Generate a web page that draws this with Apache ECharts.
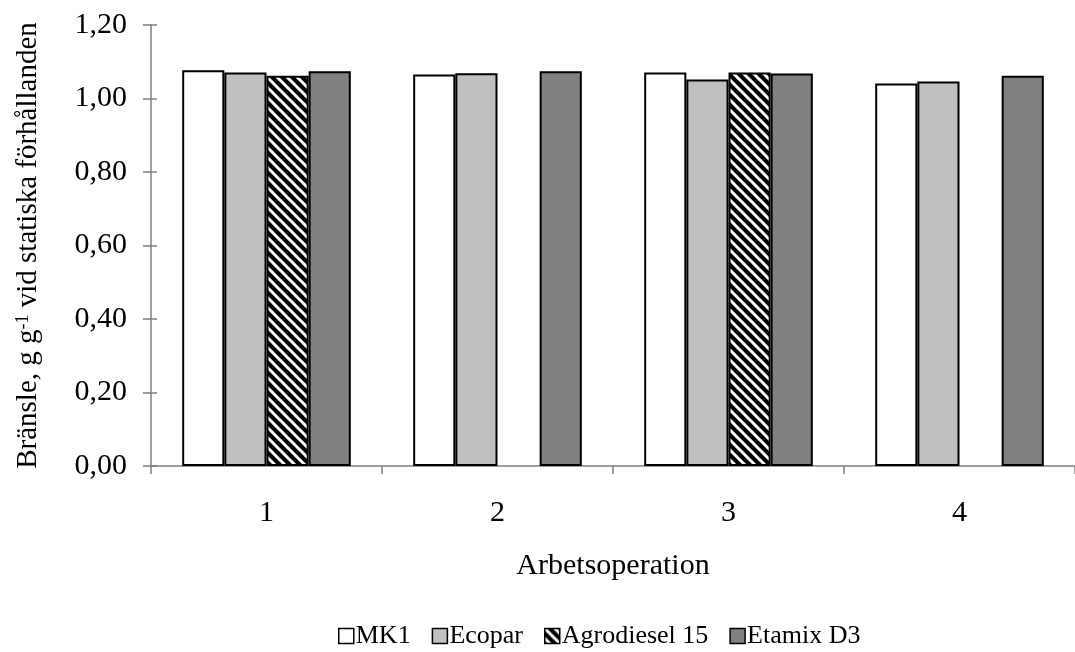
<!DOCTYPE html>
<html>
<head>
<meta charset="utf-8">
<script src="https://cdn.jsdelivr.net/npm/echarts@6/dist/echarts.min.js"></script>
<style>
	html, body { margin: 0; padding: 0; background: #fff; }
	#chart { width: 1075px; height: 652px; }
</style>
</head>
<body>
<div id="chart"></div>
<script>
	var categories = ['1', '2', '3', '4'];
	var seriesNames = ['MK1', 'Ecopar', 'Agrodiesel 15', 'Etamix D3'];
	var mk1 = [1.077, 1.065, 1.071, 1.041];
	var ecopar = [1.071, 1.069, 1.052, 1.046];
	var agrodiesel = [1.062, null, 1.071, null];
	var etamix = [1.074, 1.074, 1.068, 1.062];
	var yTicks = [0, 0.2, 0.4, 0.6, 0.8, 1.0, 1.2];

	// black with white diagonal stripes
	function hatch() {
		var c = document.createElement('canvas');
		c.width = 10;
		c.height = 10;
		var ctx = c.getContext('2d');
		ctx.fillStyle = '#000';
		ctx.fillRect(0, 0, 10, 10);
		ctx.strokeStyle = '#fff';
		ctx.lineWidth = 3;
		ctx.beginPath();
		ctx.moveTo(-5, -5); ctx.lineTo(15, 15);
		ctx.moveTo(-5, 5); ctx.lineTo(5, 15);
		ctx.moveTo(5, -5); ctx.lineTo(15, 5);
		ctx.stroke();
		return { image: c, repeat: 'repeat' };
	}

	var fills = ['#ffffff', '#c0c0c0', hatch(), '#808080'];
	var values = [mk1, ecopar, agrodiesel, etamix];
	var font = 'Liberation Serif';

	var series = seriesNames.map(function (name, i) {
		return {
			name: name,
			type: 'bar',
			data: values[i],
			barGap: 0,
			barCategoryGap: '27%',
			itemStyle: {
				color: fills[i],
				borderColor: '#000',
				borderWidth: 2
			}
		}
	});

	var yAxisBase = {
		type: 'value',
		min: yTicks[0],
		max: yTicks[yTicks.length - 1],
		interval: 0.2,
		splitLine: { show: false }
	};

	var option = {
		animation: false,
		textStyle: { fontFamily: font },
		grid: {
			left: 151,
			top: 25,
			bottom: 186,
			width: 935
		},
		legend: {
			top: 618,
			left: 333,
			icon: 'rect',
			itemWidth: 15,
			itemHeight: 15,
			itemGap: 21,
			textStyle: { fontFamily: font, fontSize: 26, color: '#000', padding: [3, 0, 0, -3] },
			itemStyle: { borderColor: '#000', borderWidth: 1.5 }
		},
		xAxis: {
			type: 'category',
			data: categories,
			name: 'Arbetsoperation',
			nameLocation: 'middle',
			nameGap: 85,
			nameTextStyle: { fontFamily: font, fontSize: 30, color: '#000' },
			axisLine: { lineStyle: { color: '#808080', width: 1.5 } },
			axisTick: { show: true, length: 8, lineStyle: { color: '#808080', width: 1.5 } },
			axisLabel: { fontFamily: font, fontSize: 30, color: '#000', margin: 32 }
		},
		yAxis: [
			Object.assign({}, yAxisBase, {
				name: 'Bränsle, g g{sup|-1} vid statiska förhållanden',
				nameLocation: 'middle',
				nameGap: 108,
				nameRotate: 90,
				nameTextStyle: {
					fontFamily: font, fontSize: 29, color: '#000',
					rich: {
						sup: { fontFamily: font, fontSize: 18, color: '#000', verticalAlign: 'top', lineHeight: 29, padding: [0, 0, 12, 0] }
					}
				},
				axisLine: { show: true, lineStyle: { color: '#808080', width: 1.5 } },
				axisTick: { show: true, length: 8, lineStyle: { color: '#808080', width: 1.5 } },
				axisLabel: {
					fontFamily: font, fontSize: 30, color: '#000', margin: 24,
					formatter: function (v) { return v.toFixed(2).replace('.', ','); }
				}
			}),
			// second axis only for the inner half of the crossing ticks
			Object.assign({}, yAxisBase, {
				position: 'left',
				axisLine: { show: false },
				axisTick: { show: true, inside: true, length: 6, lineStyle: { color: '#808080', width: 1.5 } },
				axisLabel: { show: false }
			})
		],
		series: series
	};

	var chart = echarts.init(document.getElementById('chart'));
	chart.setOption(option);
</script>
</body>
</html>
